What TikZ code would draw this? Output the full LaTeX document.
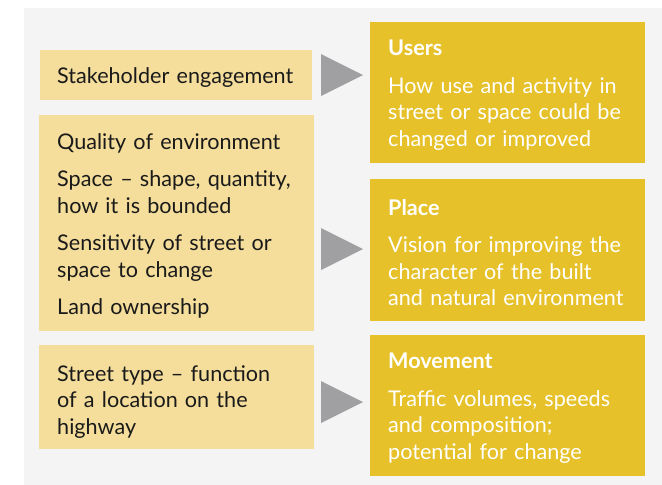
\documentclass[tikz,border=0pt]{standalone}
\usepackage{fontspec}
\setmainfont{Lato}
\definecolor{panelgrey}{HTML}{F4F4F4}
\definecolor{inyellow}{HTML}{F5DE9B}
\definecolor{outyellow}{HTML}{E6C12A}
\definecolor{pointergrey}{HTML}{A0A0A2}
\definecolor{inktext}{HTML}{1A1A1A}
\tikzset{
  inbox/.style={
    fill=inyellow, text=inktext, anchor=north west,
    align=left, text width=239pt, inner xsep=18pt, inner ysep=0pt,
    font=\fontsize{21.6}{26.5}\selectfont
  },
  outbox/.style={
    fill=outyellow, text=white, anchor=north west,
    align=left, text width=239pt, inner xsep=18pt, inner ysep=0pt,
    font=\fontsize{21.6}{26.5}\selectfont
  },
  pointer/.style={fill=pointergrey}
}

\begin{document}
\begin{tikzpicture}[x=1pt,y=-1pt]
  \useasboundingbox (0,0) rectangle (662,485);
  \fill[panelgrey] (24,8) rectangle (662,485);

  % inputs on the left
  \node[inbox, minimum height=50pt, text width=244pt, inner xsep=14pt] (stake) at (40,50)
    {\hspace*{3pt}\rule{0pt}{21pt}Stakeholder engagement};
  \node[inbox, minimum height=216pt] (quality) at (39,115)
    {\rule{0pt}{21pt}Quality of environment\\[11pt]
     Space -- shape, quantity,\\ how it is bounded\\[11pt]
     Sensitivity of street or\\ space to change\\[11pt]
     Land ownership};
  \node[inbox, minimum height=104pt] (street) at (39,345)
    {\rule{0pt}{25pt}Street type -- function\\ of a location on the\\ highway};

  % outcomes on the right
  \node[outbox, minimum height=141pt] (users) at (370,22)
    {\rule{0pt}{21pt}\textbf{Users}\\[11pt]
     How use and activity in\\ street or space could be\\ changed or improved};
  \node[outbox, minimum height=142pt] (place) at (370,179)
    {\rule{0pt}{21pt}\textbf{Place}\\[11pt]
     Vision for improving the\\ character of the built\\ and natural environment};
  \node[outbox, minimum height=141pt] (movement) at (370,335)
    {\rule{0pt}{21pt}\textbf{Movement}\\[11pt]
     Traffic volumes, speeds\\ and composition;\\ potential for change};

  % grey pointers
  \foreach \y in {75,249,402}
    \fill[pointer] (321,{\y-21}) -- (363,\y) -- (321,{\y+21}) -- cycle;
\end{tikzpicture}
\end{document}
